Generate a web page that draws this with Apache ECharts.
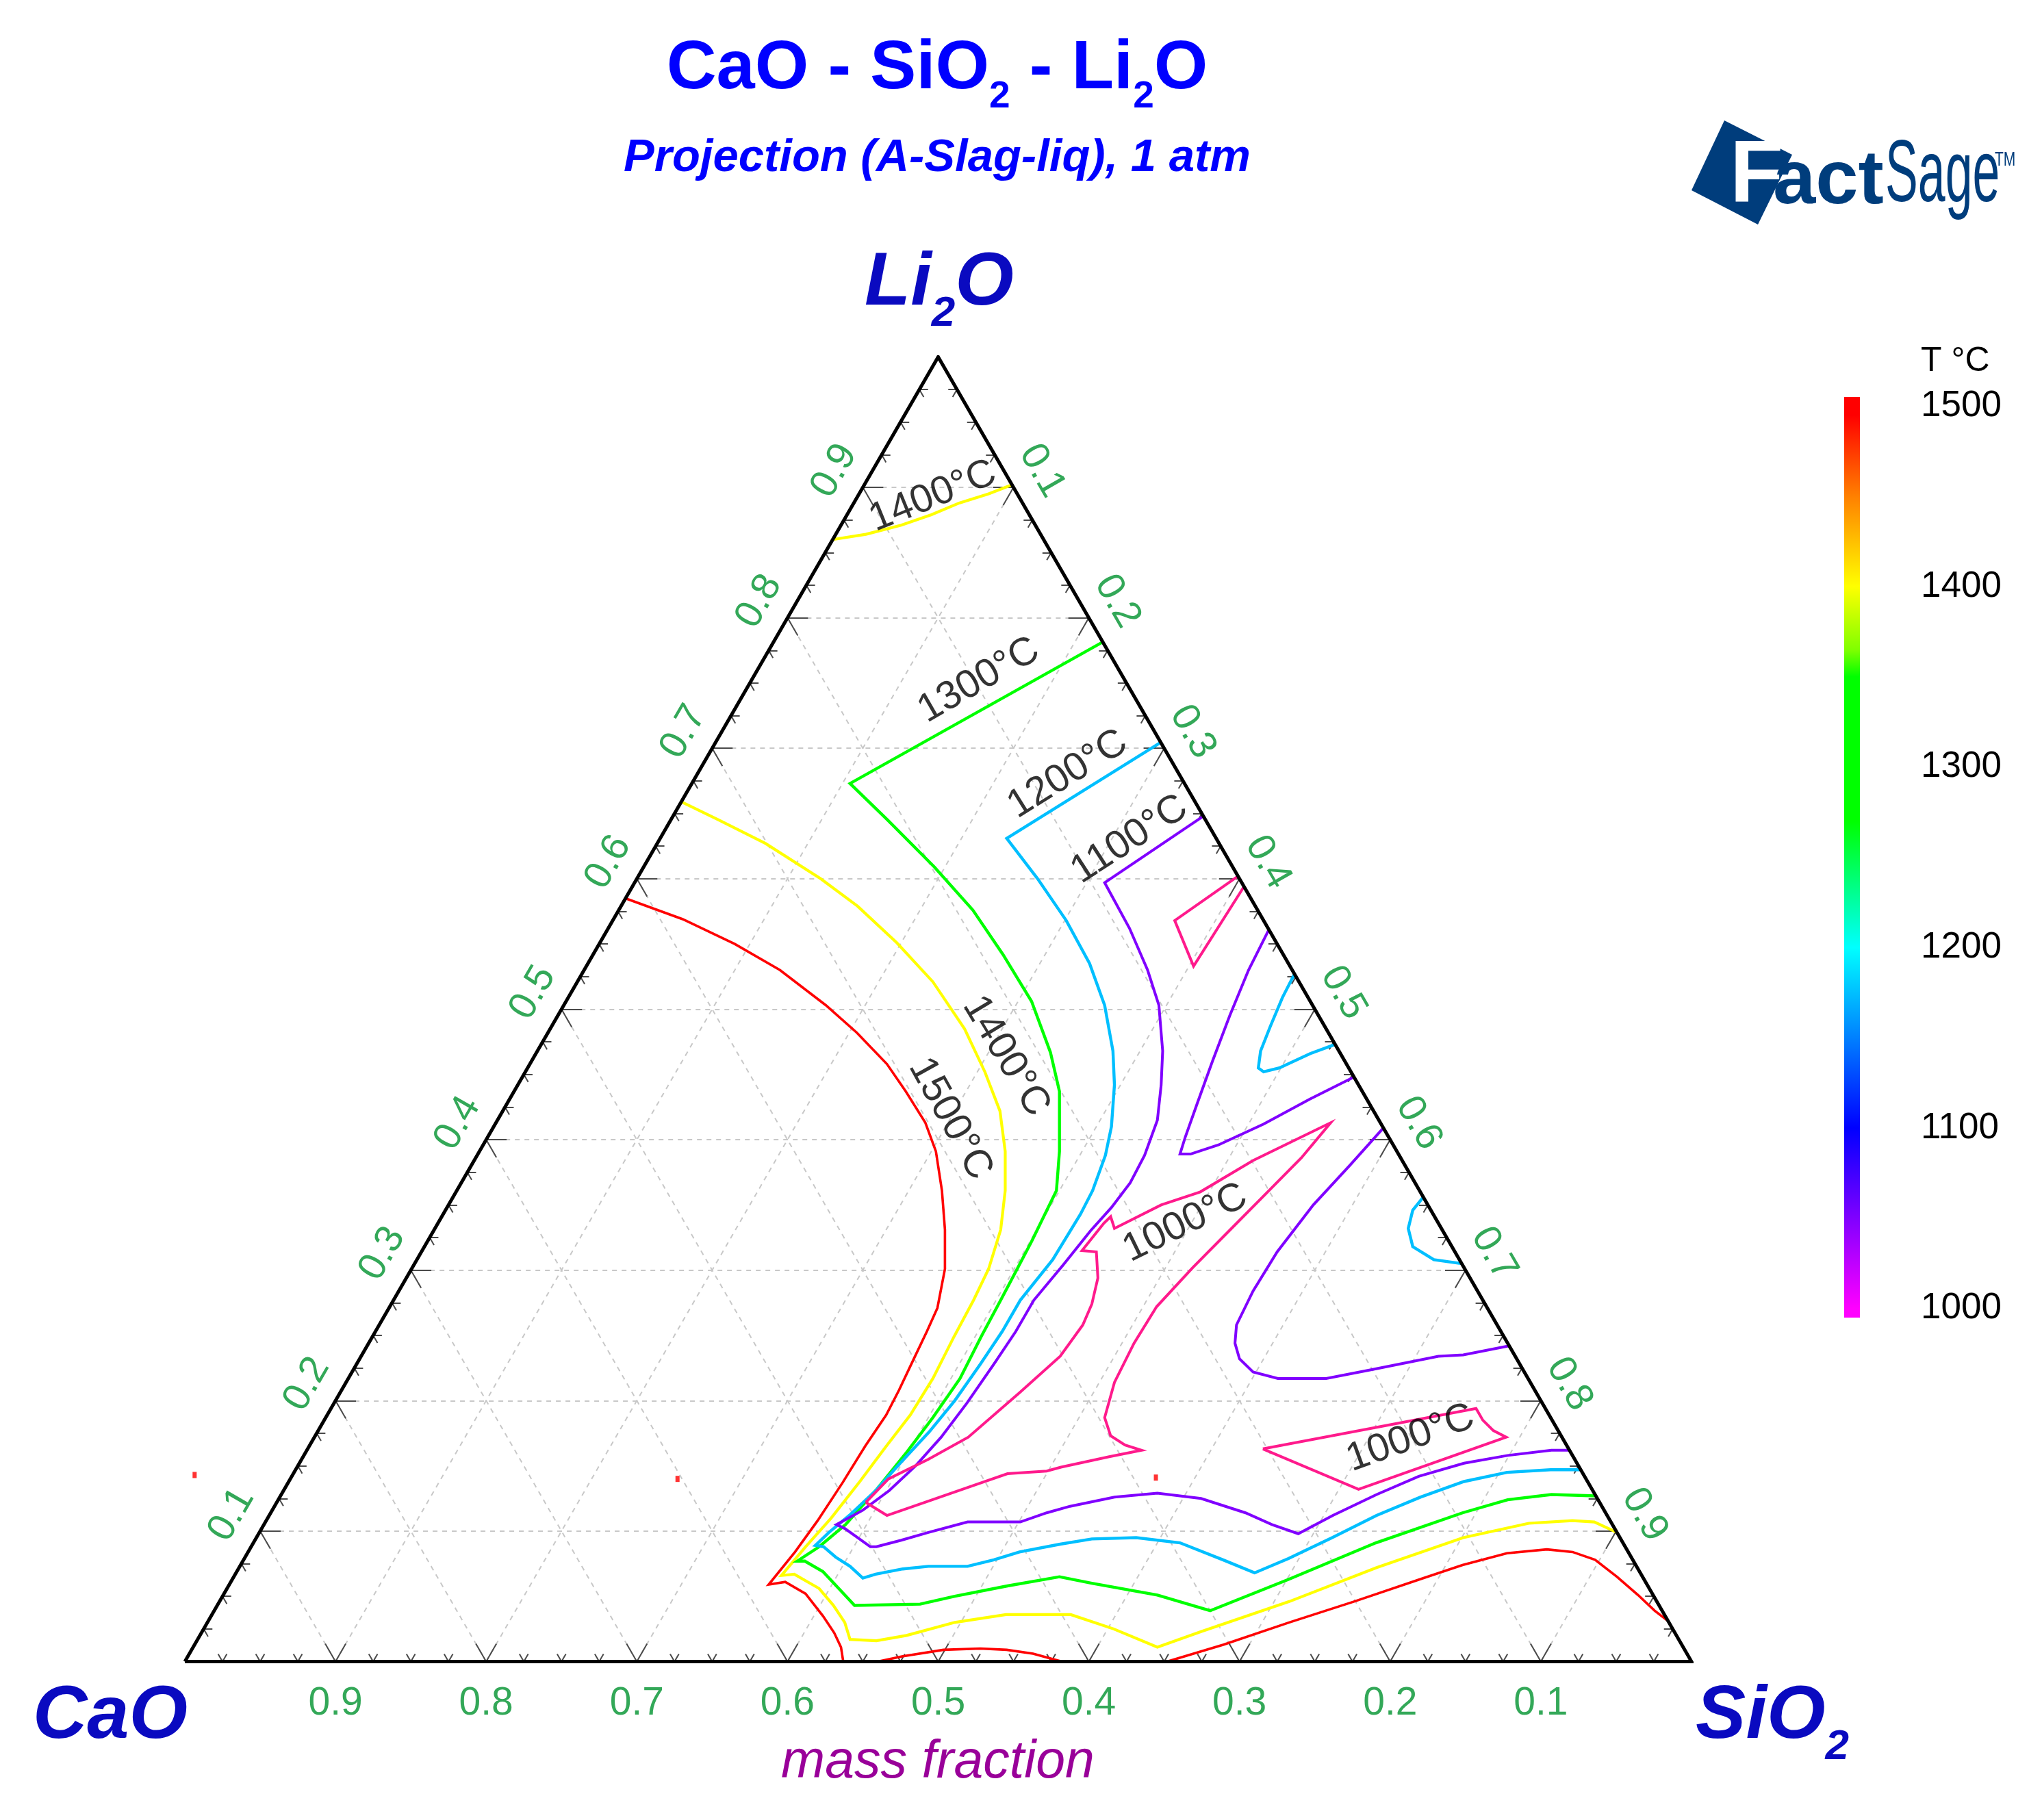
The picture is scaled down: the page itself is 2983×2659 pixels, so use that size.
<!DOCTYPE html>
<html>
<head>
<meta charset="utf-8">
<title>CaO - SiO2 - Li2O</title>
<script src="https://cdn.jsdelivr.net/npm/echarts@6/dist/echarts.min.js"></script>
<style>
  html, body { margin: 0; padding: 0; background: #fff; }
  #main { width: 2983px; height: 2659px; }
</style>
</head>
<body>
<div id="main"></div>
<script type="text/javascript">
var H = Math.sqrt(3) / 2;
var FONT = "'Liberation Sans', Arial, Helvetica, sans-serif";

// axis fractions and labels
var gridFractions = [0.1, 0.2, 0.3, 0.4, 0.5, 0.6, 0.7, 0.8, 0.9];
var tickLabels = ['0.1', '0.2', '0.3', '0.4', '0.5', '0.6', '0.7', '0.8', '0.9'];
var tickStep = 0.025;

// colour bar
var tempTicks = [1000, 1100, 1200, 1300, 1400, 1500];
var tempRange = [995, 1505];
var tempColors = [[1505, '#ff0000'], [1495, '#ff0000'], [1450, '#ff8000'], [1400, '#ffff00'],
    [1365, '#80ff00'], [1350, '#00ff00'], [1270, '#00ff00'], [1200, '#00ffff'],
    [1150, '#0080ff'], [1100, '#0000ff'], [1050, '#8000ff'], [1000, '#ff00ff'], [995, '#ff00ff']];

// contour lines, every point is [SiO2, Li2O] mass fraction
var red1500Main = [[0.000,0.585],[0.046,0.569],[0.090,0.550],[0.130,0.530],[0.174,0.503],[0.205,0.482],
    [0.237,0.458],[0.260,0.437],[0.285,0.413],[0.303,0.391],[0.322,0.361],[0.339,0.331],[0.354,0.301],
    [0.364,0.271],[0.366,0.253],[0.368,0.230],[0.370,0.208],[0.371,0.189],[0.369,0.165],[0.368,0.137],
    [0.366,0.108],[0.363,0.084],[0.358,0.059],[0.368,0.061],[0.386,0.052],[0.406,0.035],[0.420,0.022],
    [0.430,0.011],[0.437,0.000]];
var red1500Bottom = [[0.460,0.000],[0.474,0.004],[0.499,0.009],[0.523,0.010],[0.541,0.009],[0.560,0.006],[0.582,0.000]];
var red1500Right = [[0.652,0.000],[0.683,0.013],[0.718,0.030],[0.753,0.046],[0.788,0.063],[0.811,0.074],
    [0.836,0.083],[0.861,0.086],[0.879,0.084],[0.897,0.078],[0.918,0.065],[0.939,0.051],[0.956,0.039],[0.969,0.031]];
var red1500Marks = [[-0.065,0.143],[0.257,0.140],[0.574,0.141]];

var yellow1400Top = [[0.000,0.860],[0.020,0.864],[0.040,0.871],[0.056,0.879],[0.070,0.888],[0.086,0.895],[0.098,0.902]];
var yellow1400Main = [[0.000,0.659],[0.032,0.645],[0.072,0.627],[0.122,0.600],[0.157,0.579],[0.197,0.551],
    [0.236,0.521],[0.275,0.485],[0.305,0.452],[0.330,0.422],[0.349,0.391],[0.364,0.361],[0.376,0.331],
    [0.383,0.301],[0.385,0.277],[0.386,0.249],[0.388,0.217],[0.387,0.189],[0.383,0.165],[0.379,0.138],
    [0.374,0.110],[0.368,0.088],[0.363,0.066],[0.371,0.067],[0.393,0.056],[0.409,0.043],[0.423,0.030],
    [0.433,0.017],[0.451,0.016],[0.469,0.020],[0.496,0.030],[0.527,0.036],[0.554,0.036],[0.570,0.036],
    [0.604,0.025],[0.640,0.011],[0.663,0.023],[0.710,0.046],[0.755,0.072],[0.801,0.095],[0.839,0.106],
    [0.867,0.108],[0.882,0.107],[0.901,0.099]];

var green1300 = [[0.218,0.781],[0.105,0.673],[0.144,0.645],[0.193,0.609],[0.235,0.576],[0.272,0.542],
    [0.309,0.506],[0.341,0.467],[0.362,0.437],[0.385,0.391],[0.398,0.361],[0.401,0.322],[0.402,0.300],
    [0.403,0.277],[0.404,0.249],[0.406,0.217],[0.403,0.187],[0.399,0.161],[0.393,0.131],[0.386,0.105],
    [0.377,0.088],[0.368,0.077],[0.373,0.077],[0.389,0.069],[0.406,0.056],[0.423,0.043],[0.466,0.044],
    [0.486,0.050],[0.517,0.058],[0.548,0.065],[0.572,0.060],[0.620,0.051],[0.661,0.039],[0.701,0.063],
    [0.745,0.091],[0.791,0.114],[0.816,0.124],[0.843,0.128],[0.873,0.127]];

var cyan1200Main = [[0.295,0.704],[0.230,0.631],[0.266,0.600],[0.301,0.568],[0.333,0.535],[0.359,0.503],
    [0.382,0.468],[0.396,0.442],[0.410,0.410],[0.417,0.388],[0.422,0.361],[0.423,0.343],[0.422,0.308],
    [0.416,0.277],[0.416,0.253],[0.414,0.228],[0.411,0.200],[0.406,0.176],[0.399,0.153],[0.393,0.131],
    [0.385,0.112],[0.378,0.099],[0.374,0.089],[0.380,0.088],[0.392,0.080],[0.405,0.073],[0.418,0.064],
    [0.425,0.067],[0.441,0.071],[0.457,0.073],[0.483,0.073],[0.498,0.078],[0.512,0.084],[0.536,0.090],
    [0.555,0.094],[0.584,0.095],[0.615,0.091],[0.650,0.078],[0.676,0.068],[0.693,0.079],[0.714,0.095],
    [0.735,0.112],[0.757,0.126],[0.780,0.138],[0.805,0.145],[0.833,0.147],[0.853,0.147]];
var cyan1200LoopA = [[0.473,0.527],[0.474,0.509],[0.477,0.487],[0.480,0.468],[0.485,0.455],[0.490,0.452],
    [0.499,0.455],[0.514,0.466],[0.527,0.473]];
var cyan1200LoopB = [[0.644,0.356],[0.642,0.346],[0.646,0.332],[0.656,0.318],[0.675,0.308],[0.695,0.305]];

var purple1100Main = [[0.352,0.648],[0.312,0.597],[0.346,0.562],[0.374,0.530],[0.395,0.503],[0.415,0.468],
    [0.427,0.442],[0.438,0.415],[0.443,0.388],[0.444,0.367],[0.441,0.348],[0.436,0.330],[0.431,0.304],
    [0.425,0.277],[0.425,0.253],[0.423,0.228],[0.420,0.198],[0.416,0.172],[0.410,0.150],[0.402,0.131],
    [0.392,0.116],[0.380,0.105],[0.387,0.102],[0.399,0.095],[0.411,0.088],[0.415,0.088],[0.429,0.093],
    [0.444,0.099],[0.466,0.107],[0.492,0.107],[0.501,0.107],[0.515,0.114],[0.528,0.119],[0.554,0.126],
    [0.581,0.129],[0.612,0.125],[0.647,0.114],[0.669,0.105],[0.690,0.098],[0.706,0.112],[0.727,0.128],
    [0.748,0.142],[0.773,0.152],[0.799,0.158],[0.826,0.162],[0.838,0.162]];
var purple1100V = [[0.439,0.561],[0.441,0.530],[0.446,0.495],[0.452,0.460],[0.458,0.428],[0.463,0.402],
    [0.466,0.389],[0.473,0.389],[0.488,0.396],[0.510,0.412],[0.531,0.431],[0.552,0.448]];
var purple1100Loop = [[0.591,0.409],[0.583,0.380],[0.574,0.350],[0.568,0.314],[0.567,0.284],[0.569,0.258],
    [0.575,0.244],[0.584,0.232],[0.598,0.222],[0.617,0.217],[0.649,0.217],[0.677,0.224],[0.715,0.234],
    [0.731,0.235],[0.758,0.242]];

var pink1000Tri = [[0.398,0.602],[0.373,0.568],[0.403,0.533],[0.406,0.594]];
var pink1000Loop = [[0.391,0.122],[0.397,0.140],[0.416,0.155],[0.434,0.172],[0.451,0.206],[0.464,0.234],
    [0.467,0.258],[0.465,0.274],[0.459,0.294],[0.448,0.314],[0.438,0.315],[0.442,0.336],[0.444,0.341],
    [0.451,0.332],[0.473,0.350],[0.494,0.360],[0.517,0.384],[0.554,0.413],[0.548,0.386],[0.538,0.358],
    [0.528,0.330],[0.518,0.302],[0.509,0.272],[0.508,0.244],[0.510,0.214],[0.517,0.187],[0.528,0.173],
    [0.541,0.166],[0.554,0.162],[0.535,0.157],[0.507,0.149],[0.499,0.146],[0.474,0.144],[0.460,0.137],
    [0.432,0.123],[0.410,0.112],[0.391,0.122]];
var pink1000Lower = [[0.634,0.163],[0.760,0.194],[0.769,0.185],[0.780,0.177],[0.791,0.172],[0.713,0.132],[0.634,0.163]];

// isotherm labels: text and [SiO2, Li2O] anchor
var isoTexts = ['1400°C', '1300°C', '1200°C', '1100°C', '1400°C', '1500°C', '1000°C', '1000°C'];
var isoAt = [[0.050,0.893],[0.151,0.752],[0.246,0.680],[0.312,0.630],[0.313,0.464],[0.300,0.416],[0.496,0.336],[0.728,0.171]];

function toXY(p) {
    return [p[0] + p[1] / 2, p[1] * H];
}

var contours = [
    {color: '#ff0000', width: 3.6, pieces: [red1500Main, red1500Bottom, red1500Right]},
    {color: '#ffff00', width: 4.2, pieces: [yellow1400Top, yellow1400Main]},
    {color: '#00ff00', width: 4.4, pieces: [green1300]},
    {color: '#00bfff', width: 4.4, pieces: [cyan1200Main, cyan1200LoopA, cyan1200LoopB]},
    {color: '#8000ff', width: 4, pieces: [purple1100Main, purple1100V, purple1100Loop]},
    {color: '#ff1a8c', width: 4, pieces: [pink1000Tri, pink1000Loop, pink1000Lower]}
];

// dashed composition grid
var gridSegs = [];
gridFractions.forEach(function (v) {
    gridSegs.push({coords: [toXY([0, v]), toXY([1 - v, v])]});
    gridSegs.push({coords: [toXY([v, 0]), toXY([v, 1 - v])]});
    gridSegs.push({coords: [toXY([1 - v, 0]), toXY([0, 1 - v])]});
});

// edge ticks, arms run along the two grid lines meeting the edge
var tickSegs = [];
for (var k = 1; k < 40; k++) {
    var t = k * tickStep;
    var len = (k % 4 === 0) ? 0.0136 : 0.0058;
    tickSegs.push({coords: [toXY([t, 0]), toXY([t, len])]});
    tickSegs.push({coords: [toXY([t, 0]), toXY([t - len, len])]});
    tickSegs.push({coords: [toXY([0, t]), toXY([len, t])]});
    tickSegs.push({coords: [toXY([0, t]), toXY([len, t - len])]});
    tickSegs.push({coords: [toXY([1 - t, t]), toXY([1 - t - len, t])]});
    tickSegs.push({coords: [toXY([1 - t, t]), toXY([1 - t, t - len])]});
}

// green scale numbers outside the three edges
var dSide = 0.0218, dBottom = 0.028;
var scaleItems = [];
gridFractions.forEach(function (v, i) {
    var pl = toXY([0, v]);
    scaleItems.push({name: tickLabels[i], value: [pl[0] - 0.866 * dSide, pl[1] + 0.5 * dSide], label: {rotate: 60}});
    var pr = toXY([v, 1 - v]);
    scaleItems.push({name: tickLabels[i], value: [pr[0] + 0.866 * dSide, pr[1] + 0.5 * dSide], label: {rotate: -60}});
    var pb = toXY([1 - v, 0]);
    scaleItems.push({name: tickLabels[i], value: [pb[0], pb[1] - dBottom]});
});

var isoAngles = [22, 30, 32, 33, -59, -61, 26, 20];
var isoItems = isoTexts.map(function (s, i) {
    return {name: s, value: toXY(isoAt[i]), label: {rotate: isoAngles[i]}};
});

var series = [];
series.push({
    type: 'lines', coordinateSystem: 'cartesian2d', xAxisIndex: 0, yAxisIndex: 0, silent: true, z: 1,
    lineStyle: {color: '#c8c8c8', width: 2, type: [7, 7], opacity: 1},
    data: gridSegs
});
series.push({
    type: 'lines', coordinateSystem: 'cartesian2d', xAxisIndex: 0, yAxisIndex: 0, silent: true, z: 2,
    lineStyle: {color: '#4a4a4a', width: 2, opacity: 1},
    data: tickSegs
});
contours.forEach(function (c) {
    series.push({
        type: 'lines', coordinateSystem: 'cartesian2d', xAxisIndex: 0, yAxisIndex: 0, polyline: true,
        silent: true, z: 3,
        lineStyle: {color: c.color, width: c.width, opacity: 1},
        data: c.pieces.map(function (p) { return {coords: p.map(toXY)}; })
    });
});
series.push({
    type: 'scatter', xAxisIndex: 0, yAxisIndex: 0, silent: true, z: 3,
    symbol: 'rect', symbolSize: [6, 9], itemStyle: {color: '#ff0000'},
    data: red1500Marks.map(toXY)
});
series.push({
    type: 'lines', coordinateSystem: 'cartesian2d', xAxisIndex: 0, yAxisIndex: 0, polyline: true,
    silent: true, z: 4,
    lineStyle: {color: '#000', width: 5, opacity: 1, join: 'miter'},
    data: [{coords: [[0, 0], [1, 0], [0, 1], [0, 0]].map(toXY)}]
});
series.push({
    type: 'scatter', xAxisIndex: 0, yAxisIndex: 0, silent: true, clip: false, z: 5,
    symbolSize: 1, itemStyle: {color: 'rgba(0,0,0,0)'},
    label: {show: true, position: 'inside', formatter: '{b}', color: '#00922e',
        fontSize: 57, fontFamily: FONT, align: 'center', verticalAlign: 'middle'},
    data: scaleItems
});
series.push({
    type: 'scatter', xAxisIndex: 0, yAxisIndex: 0, silent: true, clip: false, z: 5,
    symbolSize: 1, itemStyle: {color: 'rgba(0,0,0,0)'},
    label: {show: true, position: 'inside', formatter: '{b}', color: '#000',
        fontSize: 58, fontFamily: FONT, align: 'center', verticalAlign: 'middle'},
    data: isoItems
});

// colour bar: transparent base up to the axis start, gradient above it
var barGradient = new echarts.graphic.LinearGradient(0, 0, 0, 1, tempColors.map(function (c) {
    return {offset: (tempRange[1] - c[0]) / (tempRange[1] - tempRange[0]), color: c[1]};
}));
series.push({
    type: 'bar', xAxisIndex: 1, yAxisIndex: 1, stack: 'cb', barWidth: '100%', silent: true,
    itemStyle: {color: 'rgba(0,0,0,0)'}, data: [tempRange[0]]
});
series.push({
    type: 'bar', xAxisIndex: 1, yAxisIndex: 1, stack: 'cb', barWidth: '100%', silent: true,
    itemStyle: {color: barGradient}, data: [tempRange[1] - tempRange[0]]
});

var blue = '#0000ff', navy = '#0a0ac0', logo = '#003d7c';
function subText(parts, size, subSize, color, italic) {
    return {
        text: parts,
        fontFamily: FONT, fontWeight: 'bold', fontStyle: italic ? 'italic' : 'normal', fontSize: size, fill: color,
        align: 'center', textAlign: 'center', verticalAlign: 'middle', textVerticalAlign: 'middle',
        rich: {
            a: {fontSize: size, fontWeight: 'bold', fontStyle: italic ? 'italic' : 'normal', fontFamily: FONT, fill: color},
            s: {fontSize: subSize, fontWeight: 'bold', fontStyle: italic ? 'italic' : 'normal', fontFamily: FONT, fill: color,
                padding: [Math.round(size * 0.8), 0, 0, 0], lineHeight: subSize}
        }
    };
}

var graphics = [
    {type: 'text', x: 1369, y: 101, style: subText('{a|CaO - SiO}{s|2}{a| - Li}{s|2}{a|O}', 101, 55, blue, false)},
    {type: 'text', x: 1369, y: 232, style: {text: 'Projection (A-Slag-liq), 1 atm', fontFamily: FONT,
        fontWeight: 'bold', fontStyle: 'italic', fontSize: 67, fill: blue,
        align: 'center', textAlign: 'center', verticalAlign: 'middle', textVerticalAlign: 'middle'}},
    {type: 'text', x: 1372, y: 415, style: subText('{a|Li}{s|2}{a|O}', 110, 62, navy, true)},
    {type: 'text', x: 161, y: 2509, style: subText('{a|CaO}', 110, 62, navy, true)},
    {type: 'text', x: 2589, y: 2509, style: subText('{a|SiO}{s|2}', 110, 62, navy, true)},
    {type: 'text', x: 1370, y: 2576, style: {text: 'mass fraction', fontFamily: FONT, fontStyle: 'italic',
        fontSize: 77, fill: '#990099',
        align: 'center', textAlign: 'center', verticalAlign: 'middle', textVerticalAlign: 'middle'}},
    {type: 'text', x: 2806, y: 528, style: {text: 'T °C', fontFamily: FONT, fontSize: 50, fill: '#000',
        align: 'left', textAlign: 'left', verticalAlign: 'middle', textVerticalAlign: 'middle'}},
    // FactSage logo
    {type: 'polygon', shape: {points: [[2519, 176], [2618, 226], [2568, 328], [2471, 278]]}, style: {fill: logo}},
    {type: 'text', x: 2527, y: 259, style: {text: 'F', fontFamily: FONT, fontWeight: 'bold', fontSize: 128, fill: '#fff',
        align: 'left', textAlign: 'left', verticalAlign: 'middle', textVerticalAlign: 'middle'}},
    {type: 'text', x: 2590, y: 266, style: {text: 'act', fontFamily: FONT, fontWeight: 'bold', fontSize: 112, fill: logo,
        align: 'left', textAlign: 'left', verticalAlign: 'middle', textVerticalAlign: 'middle'}},
    {type: 'text', x: 2754, y: 259, scaleX: 0.56, style: {text: 'Sage', fontFamily: FONT, fontSize: 128, fill: logo,
        align: 'left', textAlign: 'left', verticalAlign: 'middle', textVerticalAlign: 'middle'}},
    {type: 'text', x: 2914, y: 234, scaleX: 0.7, style: {text: 'TM', fontFamily: FONT, fontSize: 30, fill: logo,
        align: 'left', textAlign: 'left', verticalAlign: 'middle', textVerticalAlign: 'middle'}}
];

var myChart = echarts.init(document.getElementById('main'));
var option = {
    animation: false,
    backgroundColor: '#fff',
    textStyle: {fontFamily: FONT},
    grid: [
        {left: 270, top: 521.4, width: 2201, height: 2201 * H},
        {left: 2694, top: 580, width: 23, height: 1345}
    ],
    xAxis: [
        {gridIndex: 0, type: 'value', min: 0, max: 1, show: false},
        {gridIndex: 1, type: 'category', data: ['T'], show: false}
    ],
    yAxis: [
        {gridIndex: 0, type: 'value', min: 0, max: H, show: false},
        {gridIndex: 1, type: 'value', min: tempRange[0], max: tempRange[1], position: 'right',
            axisLine: {show: false}, axisTick: {show: false}, splitLine: {show: false},
            axisLabel: {customValues: tempTicks, margin: 89, fontSize: 53, color: '#000', fontFamily: FONT,
                formatter: function (v) { return String(v); }}}
    ],
    graphic: graphics,
    series: series
};
myChart.setOption(option);
</script>
</body>
</html>
